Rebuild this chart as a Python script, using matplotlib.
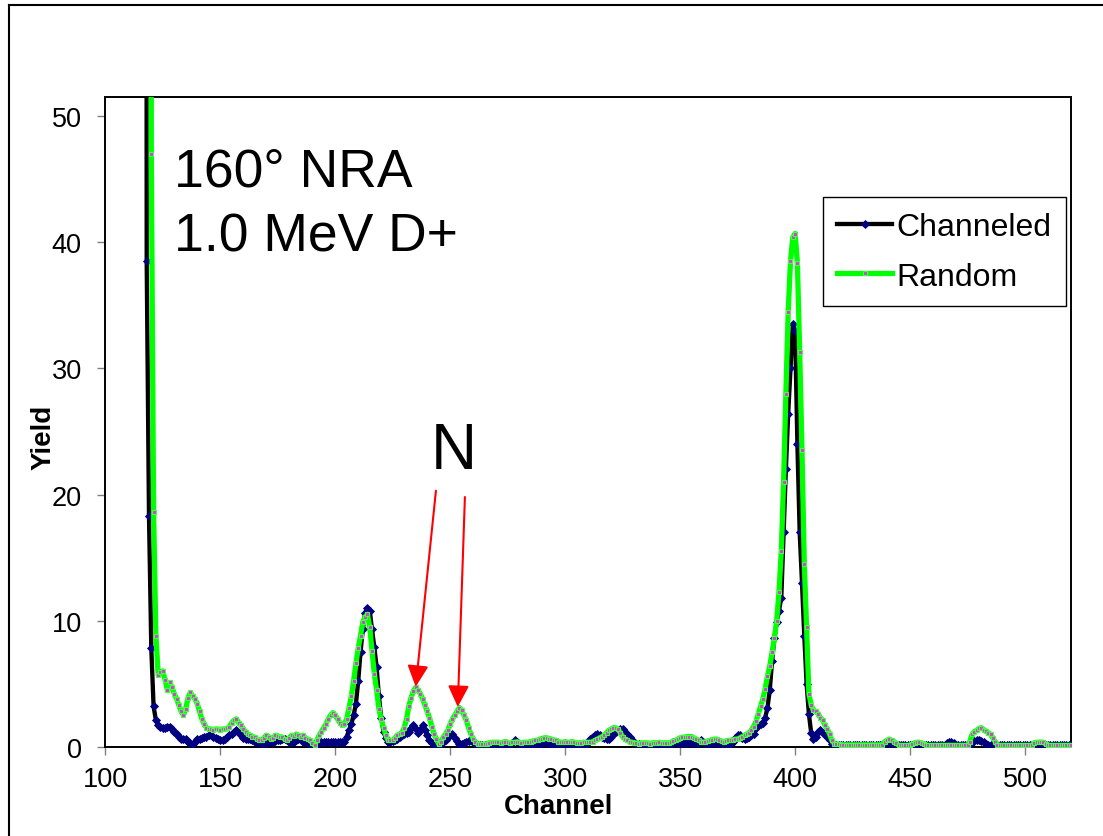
import numpy as np
import matplotlib
matplotlib.use("Agg")
import matplotlib.pyplot as plt
from matplotlib.lines import Line2D

# ---------------- data ----------------
channels = np.arange(116, 521)

random_yield = [
    600, 550, 500, 450, 47.0, 18.6, 8.8, 5.7, 5.9, 6.0,          # 116-125
    5.3, 4.5, 5.1, 4.7, 4.2, 3.8, 3.3, 2.8, 2.5, 3.0,             # 126-135
    3.9, 4.3, 4.0, 3.8, 3.4, 2.8, 2.2, 1.8, 1.5, 1.4,             # 136-145
    1.4, 1.35, 1.4, 1.4, 1.35, 1.4, 1.4, 1.45, 1.6, 1.9,          # 146-155
    2.1, 2.2, 1.9, 1.7, 1.4, 1.2, 1.0, 0.9, 0.8, 0.75,            # 156-165
    0.6, 0.5, 0.5, 0.7, 0.9, 0.8, 0.6, 0.7, 0.9, 0.85,            # 166-175
    0.8, 0.75, 0.6, 0.5, 0.7, 0.9, 0.85, 1.0, 0.9, 0.75,          # 176-185
    0.9, 0.7, 0.6, 0.5, 0.3, 0.1, 0.5, 0.9, 1.2, 1.5,             # 186-195
    1.8, 2.2, 2.5, 2.7, 2.5, 2.2, 1.9, 1.7, 1.8, 2.2,             # 196-205
    3.1, 4.0, 5.2, 6.6, 7.8, 8.8, 9.9, 10.3, 10.5, 9.5,           # 206-215
    7.6, 5.8, 4.5, 3.0, 2.2, 1.5, 0.9, 0.5, 0.5, 0.5,             # 216-225
    0.7, 0.9, 1.0, 1.1, 1.5, 2.2, 3.2, 3.9, 4.4, 4.7,             # 226-235
    4.5, 4.2, 3.8, 3.3, 2.8, 2.3, 1.6, 1.0, 0.6, 0.2,             # 236-245
    0.4, 0.75, 1.0, 1.3, 1.8, 2.2, 2.5, 2.8, 3.1, 2.9,            # 246-255
    2.5, 2.1, 1.5, 1.0, 0.6, 0.4, 0.2, 0.2, 0.2, 0.2,             # 256-265
    0.25, 0.3, 0.35, 0.35, 0.35, 0.35, 0.3, 0.35, 0.4, 0.35,      # 266-275
    0.3, 0.35, 0.35, 0.4, 0.35, 0.3, 0.35, 0.35, 0.35, 0.4,       # 276-285
    0.45, 0.5, 0.5, 0.6, 0.65, 0.7, 0.7, 0.65, 0.6, 0.55,         # 286-295
    0.5, 0.4, 0.35, 0.35, 0.4, 0.35, 0.35, 0.4, 0.35, 0.3,        # 296-305
    0.3, 0.3, 0.35, 0.35, 0.35, 0.35, 0.4, 0.5, 0.6, 0.7,         # 306-315
    0.8, 0.9, 1.1, 1.3, 1.4, 1.5, 1.5, 1.4, 1.1, 0.8,             # 316-325
    0.6, 0.5, 0.4, 0.35, 0.3, 0.3, 0.25, 0.3, 0.3, 0.3,           # 326-335
    0.3, 0.25, 0.3, 0.3, 0.3, 0.35, 0.3, 0.3, 0.3, 0.3,           # 336-345
    0.35, 0.45, 0.5, 0.6, 0.7, 0.75, 0.75, 0.8, 0.8, 0.8,         # 346-355
    0.7, 0.6, 0.5, 0.4, 0.35, 0.4, 0.45, 0.5, 0.55, 0.6,          # 356-365
    0.6, 0.5, 0.45, 0.4, 0.45, 0.5, 0.5, 0.55, 0.6, 0.6,          # 366-375
    0.7, 0.8, 0.9, 1.0, 1.1, 1.3, 1.6, 2.0, 2.6, 3.2,             # 376-385
    3.8, 4.6, 5.6, 6.4, 7.5, 8.6, 10.0, 12.3, 15.5, 21.0,         # 386-395
    28.0, 34.5, 38.5, 40.4, 40.7, 38.4, 31.3, 23.5, 14.5, 9.5,    # 396-405
    4.2, 3.3, 2.9, 2.8, 2.6, 2.3, 2.1, 1.7, 1.4, 1.0,             # 406-415
    0.5, 0.25, 0.2, 0.2, 0.15, 0.15, 0.15, 0.15, 0.15, 0.15,      # 416-425
    0.15, 0.15, 0.15, 0.15, 0.15, 0.15, 0.15, 0.15, 0.15, 0.15,   # 426-435
    0.15, 0.15, 0.15, 0.4, 0.5, 0.6, 0.5, 0.4, 0.3, 0.1,          # 436-445
    0.1, 0.1, 0.1, 0.1, 0.15, 0.2, 0.3, 0.35, 0.35, 0.3,          # 446-455
    0.2, 0.15, 0.1, 0.1, 0.1, 0.1, 0.1, 0.1, 0.1, 0.1,            # 456-465
    0.1, 0.1, 0.1, 0.1, 0.1, 0.1, 0.1, 0.1, 0.1, 0.1,             # 466-475
    0.4, 1.0, 1.2, 1.3, 1.45, 1.5, 1.35, 1.25, 1.1, 1.0,          # 476-485
    0.7, 0.4, 0.15, 0.1, 0.1, 0.1, 0.1, 0.1, 0.1, 0.1,            # 486-495
    0.1, 0.1, 0.1, 0.1, 0.1, 0.1, 0.1, 0.1, 0.3, 0.35,            # 496-505
    0.35, 0.35, 0.35, 0.2, 0.1, 0.1, 0.1, 0.1, 0.1, 0.1,          # 506-515
    0.1, 0.1, 0.1, 0.1, 0.1,                                      # 516-520
]

channeled_yield = [
    600, 400, 38.5, 18.3, 7.8, 3.2, 2.1, 1.7, 1.6, 1.5,           # 116-125
    1.5, 1.6, 1.6, 1.4, 1.2, 1.0, 0.8, 0.6, 0.6, 0.6,             # 126-135
    0.4, 0.3, 0.2, 0.4, 0.6, 0.6, 0.7, 0.75, 0.8, 0.9,            # 136-145
    0.9, 0.8, 0.7, 0.6, 0.55, 0.5, 0.6, 0.75, 0.9, 1.0,           # 146-155
    1.2, 1.3, 1.1, 0.9, 0.7, 0.6, 0.6, 0.6, 0.5, 0.4,             # 156-165
    0.35, 0.3, 0.25, 0.2, 0.3, 0.35, 0.35, 0.4, 0.45, 0.5,        # 166-175
    0.55, 0.6, 0.6, 0.5, 0.4, 0.35, 0.4, 0.5, 0.6, 0.6,           # 176-185
    0.4, 0.35, 0.3, 0.25, 0.2, 0.2, 0.25, 0.3, 0.35, 0.35,        # 186-195
    0.35, 0.35, 0.35, 0.35, 0.35, 0.35, 0.35, 0.35, 0.4, 0.8,     # 196-205
    1.3, 1.8, 2.5, 3.4, 5.2, 7.5, 9.3, 10.6, 11.0, 10.8,          # 206-215
    9.3, 7.9, 6.3, 4.0, 2.3, 1.2, 0.7, 0.4, 0.35, 0.45,           # 216-225
    0.55, 0.65, 0.75, 0.9, 1.0, 1.05, 1.2, 1.5, 1.7, 1.4,         # 226-235
    1.1, 1.3, 1.7, 1.3, 0.9, 0.5, 0.3, 0.15, 0.1, 0.15,           # 236-245
    0.2, 0.35, 0.55, 0.75, 0.9, 1.0, 0.7, 0.45, 0.25, 0.2,        # 246-255
    0.3, 0.35, 0.45, 0.6, 0.4, 0.2, 0.1, 0.1, 0.1, 0.1,           # 256-265
    0.1, 0.1, 0.1, 0.1, 0.1, 0.1, 0.1, 0.1, 0.1, 0.1,             # 266-275
    0.1, 0.3, 0.5, 0.4, 0.2, 0.1, 0.1, 0.1, 0.1, 0.1,             # 276-285
    0.1, 0.1, 0.1, 0.1, 0.3, 0.35, 0.3, 0.15, 0.1, 0.1,           # 286-295
    0.15, 0.1, 0.1, 0.15, 0.1, 0.1, 0.15, 0.1, 0.1, 0.1,          # 296-305
    0.15, 0.1, 0.1, 0.15, 0.4, 0.6, 0.8, 0.9, 1.0, 0.9,           # 306-315
    0.75, 0.7, 0.6, 0.6, 0.8, 1.0, 1.2, 1.3, 1.4, 1.4,            # 316-325
    1.2, 1.0, 0.75, 0.5, 0.35, 0.25, 0.2, 0.15, 0.15, 0.15,       # 326-335
    0.15, 0.15, 0.15, 0.15, 0.15, 0.15, 0.15, 0.15, 0.15, 0.15,   # 336-345
    0.15, 0.35, 0.35, 0.3, 0.3, 0.3, 0.3, 0.3, 0.3, 0.3,          # 346-355
    0.3, 0.3, 0.3, 0.5, 0.4, 0.25, 0.2, 0.3, 0.3, 0.3,            # 356-365
    0.3, 0.3, 0.2, 0.2, 0.2, 0.2, 0.2, 0.4, 0.7, 0.9,             # 366-375
    0.9, 0.7, 0.6, 0.7, 0.8, 0.9, 1.0, 1.5, 1.7, 1.8,             # 376-385
    1.9, 2.3, 3.1, 4.5, 6.8, 8.6, 9.9, 10.8, 11.8, 17.0,          # 386-395
    22.0, 26.4, 30.0, 33.5, 33.0, 24.0, 17.0, 13.0, 8.8, 5.0,     # 396-405
    2.6, 1.1, 0.6, 0.8, 1.2, 1.3, 1.1, 1.0, 0.8, 0.5,             # 406-415
    0.2, 0.1, 0.1, 0.1, 0.1, 0.1, 0.1, 0.1, 0.1, 0.1,             # 416-425
    0.1, 0.1, 0.1, 0.1, 0.1, 0.1, 0.1, 0.1, 0.1, 0.1,             # 426-435
    0.1, 0.1, 0.1, 0.2, 0.3, 0.3, 0.25, 0.15, 0.1, 0.1,           # 436-445
    0.1, 0.1, 0.1, 0.1, 0.1, 0.1, 0.1, 0.1, 0.1, 0.1,             # 446-455
    0.1, 0.1, 0.1, 0.1, 0.1, 0.1, 0.1, 0.1, 0.1, 0.1,             # 456-465
    0.3, 0.4, 0.4, 0.3, 0.1, 0.1, 0.1, 0.1, 0.1, 0.1,             # 466-475
    0.1, 0.4, 0.45, 0.5, 0.5, 0.45, 0.35, 0.25, 0.1, 0.1,         # 476-485
    0.1, 0.1, 0.1, 0.1, 0.1, 0.1, 0.1, 0.1, 0.1, 0.1,             # 486-495
    0.1, 0.1, 0.1, 0.1, 0.1, 0.1, 0.1, 0.1, 0.1, 0.2,             # 496-505
    0.2, 0.2, 0.1, 0.1, 0.1, 0.1, 0.1, 0.1, 0.1, 0.1,             # 506-515
    0.1, 0.1, 0.1, 0.1, 0.1,                                      # 516-520
]

series_labels = ["Channeled", "Random"]
x_ticks = [100, 150, 200, 250, 300, 350, 400, 450, 500]
y_ticks = [0, 10, 20, 30, 40, 50]
info_lines = ["160\u00b0 NRA", "1.0 MeV D+"]
peak_label = "N"
arrow_tips = [(235.0, 4.75), (253.3, 3.15)]
arrow_tails = [(243.8, 20.3), (256.4, 19.8)]

# ---------------- figure ----------------
plt.rcParams['font.family'] = ['Liberation Sans', 'DejaVu Sans']

W, H = 1103, 837
fig = plt.figure(figsize=(W / 100, H / 100), dpi=100)
ax = fig.add_axes([105.3 / W, 1 - 747.7 / H, (1071 - 105.3) / W, (747.7 - 97.7) / H])

ax.plot(channels, channeled_yield, color='black', lw=3.1, marker='D', ms=3.8,
        mfc='#000080', mec='#000080', mew=0.6, label=series_labels[0], zorder=3)
ax.plot(channels, random_yield, color='#00ff00', lw=3.8, marker='s', ms=3.2,
        mfc='#d040d0', mec='#44ff44', mew=0.8, label=series_labels[1], zorder=4)

ax.set_xlim(100, 520)
ax.set_ylim(0, 51.55)
ax.set_xticks(x_ticks)
ax.set_yticks(y_ticks)

for s in ax.spines.values():
    s.set_color('black')
    s.set_linewidth(1.4)

ax.tick_params(axis='both', direction='out', length=5.5, width=1.0,
               color='#808080', labelsize=19.5, labelcolor='black')
ax.tick_params(axis='x', pad=8.5)
ax.tick_params(axis='y', pad=11.5)

ax.set_xlabel('Channel', fontsize=20, fontweight='bold')
ax.xaxis.set_label_coords(0.469, -0.072)
ax.set_ylabel('Yield', fontsize=20, fontweight='bold')
ax.yaxis.set_label_coords(-0.051, 0.478)

ax.text(0.071, 0.863, info_lines[0], transform=ax.transAxes, fontsize=38.5, va='baseline')
ax.text(0.071, 0.763, info_lines[1], transform=ax.transAxes, fontsize=38.5, va='baseline')
ax.text(0.337, 0.4285, peak_label, transform=ax.transAxes, fontsize=46, va='baseline')

for tip, tail in zip(arrow_tips, arrow_tails):
    ax.annotate('', xy=tip, xytext=tail,
                arrowprops=dict(arrowstyle='-|>,head_length=0.65,head_width=0.32',
                                mutation_scale=20, color='red', lw=1.5,
                                shrinkA=0, shrinkB=0), zorder=6)

leg = ax.legend(loc='upper right', bbox_to_anchor=(0.995, 0.845), fontsize=23,
                frameon=True, fancybox=False, edgecolor='black', framealpha=1,
                handlelength=1.72, handletextpad=0.15, labelspacing=0.62,
                borderpad=0.45, borderaxespad=0, numpoints=1)
leg.get_frame().set_linewidth(1.0)

# outer chart-area frame (left and top edges visible)
fig.add_artist(Line2D([8.5 / W, 8.5 / W], [0, 1 - 6 / H], transform=fig.transFigure,
                      color='black', lw=1.5))
fig.add_artist(Line2D([8.5 / W, 1.0], [1 - 6 / H, 1 - 6 / H], transform=fig.transFigure,
                      color='black', lw=1.5))

fig.savefig('out.png', dpi=100)
